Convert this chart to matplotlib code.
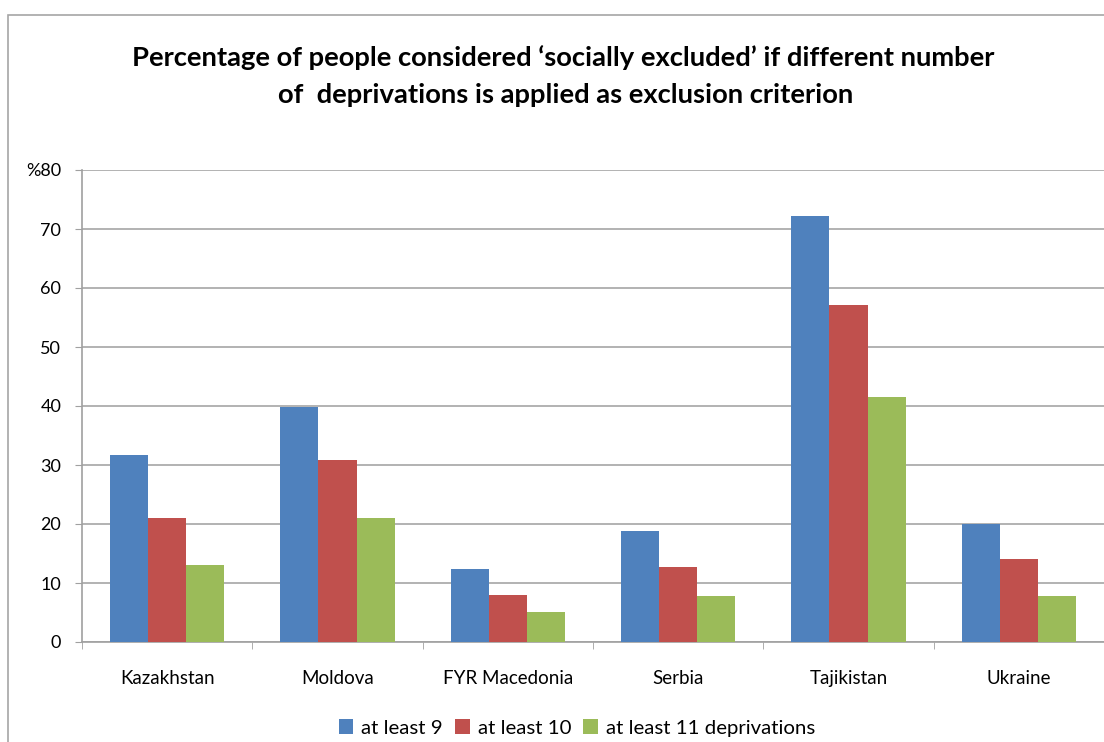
import numpy as np
import matplotlib.pyplot as plt
from matplotlib.patches import Rectangle

countries = ["Kazakhstan", "Moldova", "FYR Macedonia", "Serbia", "Tajikistan", "Ukraine"]
series_names = ["at least 9", "at least 10", "at least 11 deprivations"]
least9 = [31.7, 39.8, 12.4, 18.8, 72.2, 20.0]
least10 = [21.0, 30.8, 8.0, 12.7, 57.1, 14.1]
least11 = [13.0, 21.0, 5.1, 7.8, 41.5, 7.8]
yticks = [0, 10, 20, 30, 40, 50, 60, 70, 80]
colours = ["#4F81BD", "#C0504D", "#9BBB59"]

plt.rcParams['font.family'] = ['Lato', 'DejaVu Sans']

fig = plt.figure(figsize=(11.04, 7.42), dpi=100)
# outer chart border (Excel style)
fig.patches.append(Rectangle((8 / 1104, -0.1), 1.2, 1 - 15 / 742 + 0.1,
                             transform=fig.transFigure, fill=False,
                             edgecolor="#A6A6A6", linewidth=1.2))

ax = fig.add_axes([82 / 1104, 1 - 642 / 742, 1 - 82 / 1104, (642 - 170) / 742])
x = np.arange(len(countries))
width = 0.224
for i, (vals, name) in enumerate(zip([least9, least10, least11], series_names)):
    ax.bar(x + (i - 1) * width, vals, width, color=colours[i], label=name, zorder=3)

ax.set_xlim(-0.5, len(countries) - 0.5)
ax.set_ylim(0, 80)
ax.set_yticks(yticks)
ylabels = [str(v) for v in yticks]
ylabels[-1] = "%" + ylabels[-1]
ax.set_yticklabels(ylabels, fontsize=13)
ax.set_xticks(x)
ax.set_xticklabels(countries, fontsize=13.5)
ax.set_xticks(np.arange(-0.5, len(countries)), minor=True)
ax.tick_params(axis="x", which="major", length=0, pad=20)
ax.tick_params(axis="x", which="minor", length=5, color="#A0A0A0")
ax.tick_params(axis="y", length=5, color="#A0A0A0", pad=10)
ax.yaxis.grid(True, color="#A6A6A6", linewidth=1.2, zorder=0)
ax.set_axisbelow(True)
for s in ["top", "right"]:
    ax.spines[s].set_visible(False)
for s in ["left", "bottom"]:
    ax.spines[s].set_color("#A0A0A0")
    ax.spines[s].set_linewidth(1.2)

fig.text(563 / 1104, 1 - 58 / 742, "Percentage of people considered \u2018socially excluded\u2019 if different number",
         ha="center", va="center", fontsize=19.7, fontweight="bold")
fig.text(566 / 1104, 1 - 95 / 742, "of  deprivations is applied as exclusion criterion",
         ha="center", va="center", fontsize=19.7, fontweight="bold")

fig.legend(loc="center", bbox_to_anchor=(577 / 1104, 1 - 728 / 742), ncol=3,
           frameon=False, fontsize=14.7, handlelength=0.7, handleheight=0.7,
           handletextpad=0.4, columnspacing=0.6)

plt.savefig("out.png", dpi=100)
